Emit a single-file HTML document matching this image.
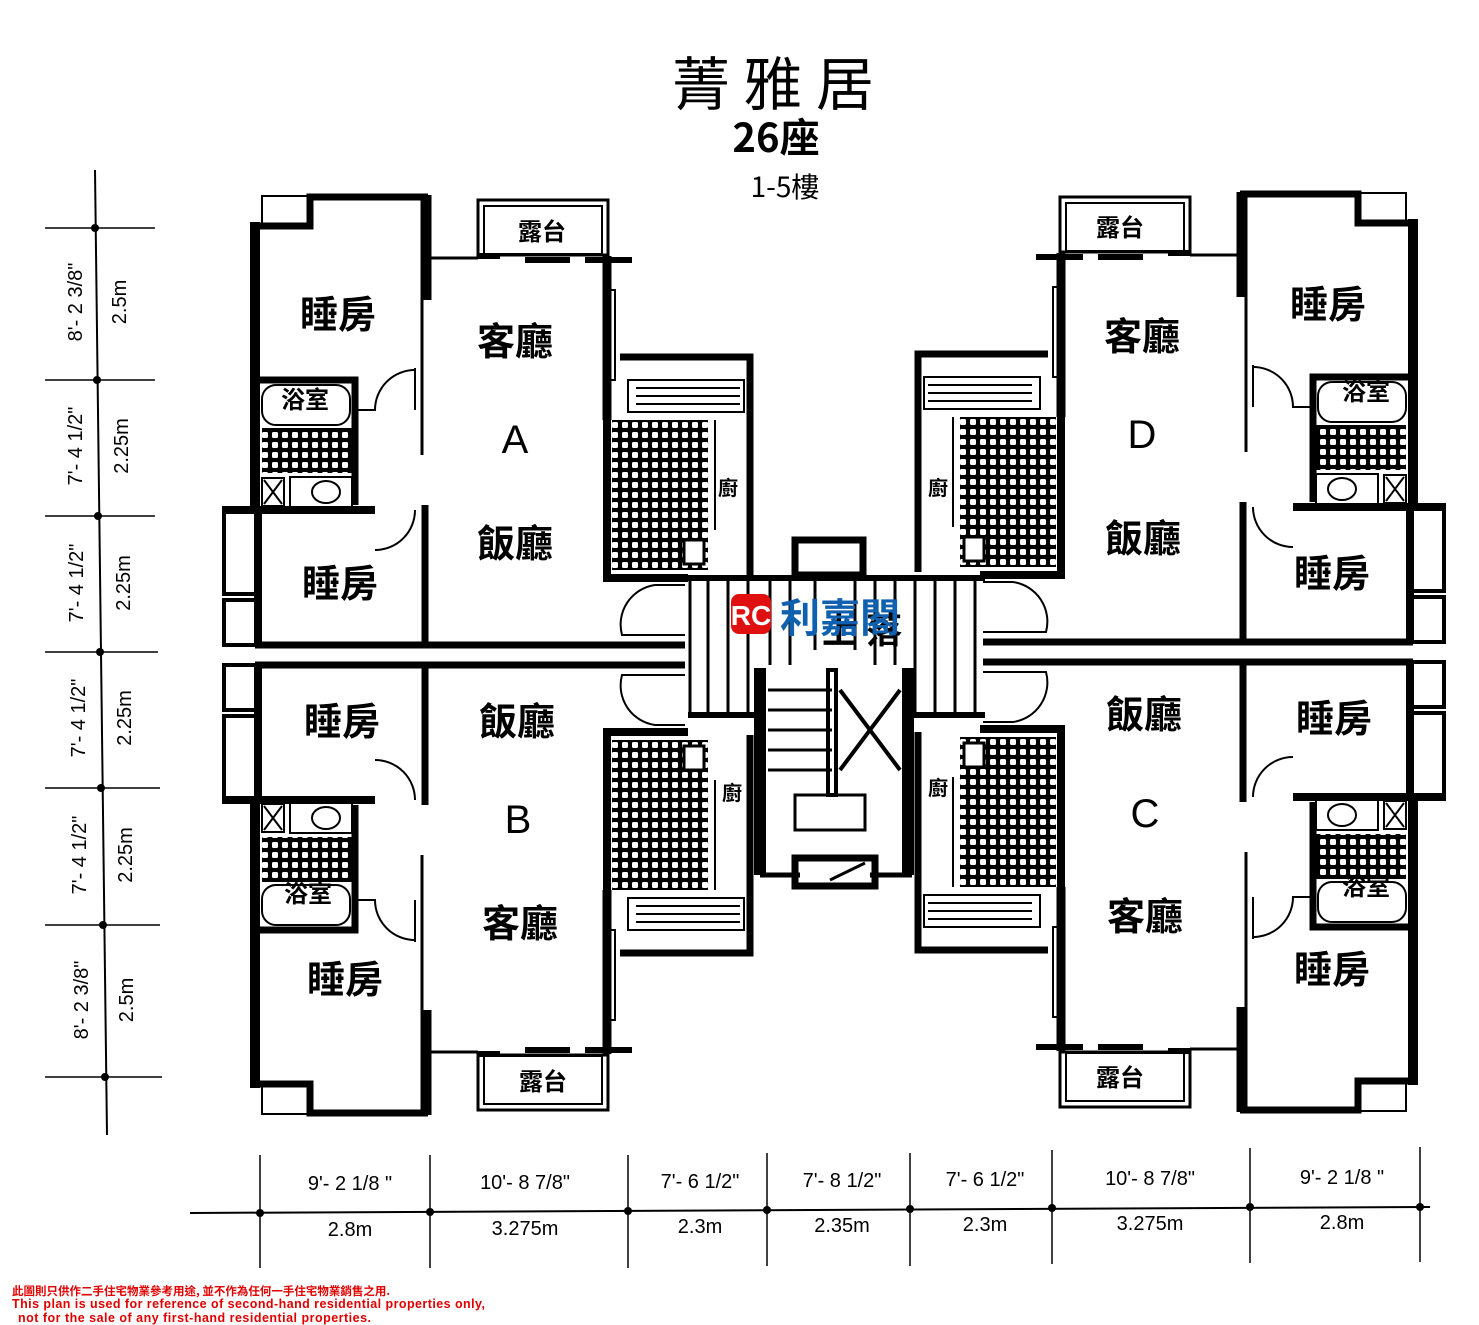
<!DOCTYPE html>
<html><head><meta charset="utf-8">
<style>
html,body{margin:0;padding:0;background:#fff;}
svg{display:block;}
text{font-family:"Liberation Sans","Noto Sans CJK TC",sans-serif;}
.cjk{font-family:"Noto Sans CJK TC","WenQuanYi Zen Hei",sans-serif;}
</style></head>
<body>
<svg width="1479" height="1325" viewBox="0 0 1479 1325" xmlns="http://www.w3.org/2000/svg">
<defs>
<pattern id="grid" width="10" height="10" patternUnits="userSpaceOnUse">
<rect width="10" height="10" fill="#000"/><rect x="2" y="2" width="6" height="6" rx="1.5" fill="#fff"/>
</pattern>
<g id="unitA" fill="none" stroke="#000">
  <rect x="262" y="196" width="48" height="30" stroke-width="2"/>
  <path d="M255 222 V510" stroke-width="10"/>
  <path d="M250 226 H310 V197 H428" stroke-width="7"/>
  <path d="M426 195 V300" stroke-width="11"/>
  <path d="M422 300 V455" stroke-width="3"/>
  <path d="M425 505 V645" stroke-width="7"/>
  <path d="M258 380 H355 V505" stroke-width="7"/>
  <rect x="262" y="385" width="88" height="40" rx="14" stroke-width="2"/>
  <rect x="262" y="428" width="90" height="45" fill="url(#grid)" stroke="none"/>
  <rect x="262" y="478" width="22" height="28" stroke-width="2"/>
  <path d="M264 480 L282 504 M282 480 L264 504" stroke-width="2"/>
  <rect x="290" y="477" width="62" height="30" stroke-width="2"/>
  <ellipse cx="326" cy="492" rx="14" ry="11" stroke-width="2"/>
  <path d="M355 410 H375 A40 40 0 0 1 415 370" stroke-width="2"/>
  <path d="M415 368 V410" stroke-width="2"/>
  <path d="M222 510 H375" stroke-width="8"/>
  <path d="M415 510 A40 40 0 0 1 375 550" stroke-width="2"/>
  <rect x="224" y="512" width="34" height="82" stroke-width="4"/>
  <rect x="224" y="600" width="34" height="45" stroke-width="4"/>
  <path d="M258 510 V645" stroke-width="8"/>
  <path d="M255 645 H685" stroke-width="7"/>
  <path d="M425 258 H478" stroke-width="3"/>
  <path d="M478 256 H500 M525 260 H570 M585 260 H632" stroke-width="6"/>
  <rect x="478" y="200" width="130" height="55" stroke-width="3"/>
  <rect x="484" y="206" width="118" height="48" stroke-width="2"/>
  <path d="M607 256 V420" stroke-width="9"/>
  <rect x="610" y="290" width="5" height="90" stroke-width="2"/>
  <path d="M620 357 H750 V575" stroke-width="7"/>
  <path d="M607 420 V578 H688" stroke-width="8"/>
  <rect x="628" y="380" width="116" height="32" stroke-width="2"/>
  <path d="M636 388 H740 M636 396 H740 M636 404 H740" stroke-width="2"/>
  <rect x="612" y="420" width="96" height="150" fill="url(#grid)" stroke="none"/>
  <rect x="684" y="540" width="20" height="24" stroke-width="3" fill="#fff"/>
  <path d="M715 420 V530" stroke-width="2"/>
  <path d="M685 585 H655 A40 40 0 0 0 622 635 H685" stroke-width="2"/>
</g>
</defs>

<text x="780" y="105" font-size="58" text-anchor="middle" class="cjk" letter-spacing="14">菁雅居</text>
<text x="776" y="152" font-size="40" text-anchor="middle" font-weight="bold" class="cjk">26座</text>
<text x="785" y="197" font-size="28" text-anchor="middle" class="cjk">1-5樓</text>

<use href="#unitA"/>
<use href="#unitA" transform="translate(0,1300) scale(1,-1) translate(0,-10)"/>
<use href="#unitA" transform="translate(1668,-3) scale(-1,1)"/>
<use href="#unitA" transform="translate(1668,1297) scale(-1,-1) translate(0,-10)"/>

<g fill="none" stroke="#000">
  <rect x="795" y="540" width="68" height="35" stroke-width="7"/>
  <path d="M688 578 H985" stroke-width="6"/>
  <path d="M688 715 H760 M905 715 H985" stroke-width="6"/>
  <path d="M690 580 V712 M708 580 V712 M728 580 V712 M748 580 V712 M770 580 V665 M790 580 V665 M815 580 V650 M855 580 V650 M875 580 V665 M895 580 V665 M915 580 V712 M935 580 V712 M955 580 V712 M975 580 V712" stroke-width="3"/>
  <path d="M760 668 V875 M908 668 V875" stroke-width="12"/>
  <path d="M768 690 H832 M768 710 H832 M768 730 H832 M768 750 H832 M768 770 H832" stroke-width="3"/>
  <rect x="828" y="670" width="8" height="125" stroke-width="4"/>
  <path d="M840 690 L900 770 M900 690 L840 770" stroke-width="4"/>
  <rect x="795" y="795" width="70" height="35" stroke-width="3"/>
  <rect x="795" y="858" width="80" height="28" stroke-width="7"/>
  <path d="M830 880 L865 863" stroke-width="3"/>
  <path d="M760 875 H800 M870 875 H912" stroke-width="5"/>
</g>
<text x="822" y="643" font-size="36" font-weight="bold" class="cjk" fill="#000">上 落</text>
<rect x="731" y="594" width="40" height="40" rx="8" fill="#e01010"/>
<text x="751" y="625" font-size="28" font-weight="bold" text-anchor="middle" fill="#fff">RC</text>
<text x="780" y="632" font-size="40" font-weight="bold" class="cjk" fill="#1060b0">利嘉閣</text>

<g class="cjk" font-size="38" fill="#000" text-anchor="middle" font-weight="bold">
  <text x="338" y="328">睡房</text>
  <text x="515" y="355">客廳</text>
  <text x="515" y="557">飯廳</text>
  <text x="340" y="597">睡房</text>
  <text x="342" y="735">睡房</text>
  <text x="517" y="735">飯廳</text>
  <text x="520" y="937">客廳</text>
  <text x="345" y="993">睡房</text>
  <text x="1328" y="318">睡房</text>
  <text x="1142" y="350">客廳</text>
  <text x="1143" y="552">飯廳</text>
  <text x="1332" y="587">睡房</text>
  <text x="1334" y="732">睡房</text>
  <text x="1144" y="728">飯廳</text>
  <text x="1145" y="930">客廳</text>
  <text x="1332" y="983">睡房</text>
</g>
<g font-size="40" text-anchor="middle" fill="#000">
  <text x="515" y="453">A</text><text x="518" y="833">B</text>
  <text x="1142" y="448">D</text><text x="1145" y="827">C</text>
</g>
<g class="cjk" font-size="24" fill="#000" text-anchor="middle" font-weight="bold">
  <text x="305" y="408">浴室</text><text x="308" y="902">浴室</text>
  <text x="1366" y="400">浴室</text><text x="1366" y="895">浴室</text>
  <text x="542" y="240">露台</text><text x="543" y="1090">露台</text>
  <text x="1120" y="236">露台</text><text x="1120" y="1086">露台</text>
</g>
<g class="cjk" font-size="20" fill="#000" font-weight="bold">
  <text x="718" y="495">廚</text><text x="928" y="495">廚</text>
  <text x="722" y="800">廚</text><text x="928" y="795">廚</text>
</g>

<g stroke="#000" fill="none">
  <path d="M95 170 L107 1135" stroke-width="2"/>
  <path d="M45 228 H155 M45 380 H155 M45 516 H155 M45 652 H158 M45 788 H160 M45 925 H160 M45 1077 H162" stroke-width="1.5"/>
</g>
<g fill="#000">
  <circle cx="95" cy="228" r="4"/><circle cx="97" cy="380" r="4"/><circle cx="98" cy="516" r="4"/><circle cx="100" cy="652" r="4"/><circle cx="101" cy="788" r="4"/><circle cx="103" cy="925" r="4"/><circle cx="105" cy="1077" r="4"/>
</g>
<g font-size="20" fill="#000" text-anchor="middle">
  <text transform="translate(82,302) rotate(-90)">8'- 2 3/8"</text>
  <text transform="translate(126,302) rotate(-90)">2.5m</text>
  <text transform="translate(82,446) rotate(-90)">7'- 4 1/2"</text>
  <text transform="translate(128,446) rotate(-90)">2.25m</text>
  <text transform="translate(83,583) rotate(-90)">7'- 4 1/2"</text>
  <text transform="translate(130,583) rotate(-90)">2.25m</text>
  <text transform="translate(85,718) rotate(-90)">7'- 4 1/2"</text>
  <text transform="translate(131,718) rotate(-90)">2.25m</text>
  <text transform="translate(86,855) rotate(-90)">7'- 4 1/2"</text>
  <text transform="translate(132,855) rotate(-90)">2.25m</text>
  <text transform="translate(88,1000) rotate(-90)">8'- 2 3/8"</text>
  <text transform="translate(133,1000) rotate(-90)">2.5m</text>
</g>

<g stroke="#000" fill="none">
  <path d="M190 1213 L1430 1207" stroke-width="2"/>
  <path d="M260 1155 V1268 M430 1155 V1268 M628 1155 V1268 M767 1153 V1266 M910 1153 V1266 M1052 1150 V1264 M1250 1148 V1263 M1420 1147 V1262" stroke-width="1.5"/>
</g>
<g fill="#000">
  <circle cx="260" cy="1213" r="4"/><circle cx="430" cy="1212" r="4"/><circle cx="628" cy="1211" r="4"/><circle cx="767" cy="1210" r="4"/><circle cx="910" cy="1209" r="4"/><circle cx="1052" cy="1208" r="4"/><circle cx="1250" cy="1207" r="4"/><circle cx="1420" cy="1207" r="4"/>
</g>
<g font-size="20" fill="#000" text-anchor="middle">
  <text x="350" y="1190">9'- 2 1/8 "</text><text x="350" y="1236">2.8m</text>
  <text x="525" y="1189">10'- 8 7/8"</text><text x="525" y="1235">3.275m</text>
  <text x="700" y="1188">7'- 6 1/2"</text><text x="700" y="1233">2.3m</text>
  <text x="842" y="1187">7'- 8 1/2"</text><text x="842" y="1232">2.35m</text>
  <text x="985" y="1186">7'- 6 1/2"</text><text x="985" y="1231">2.3m</text>
  <text x="1150" y="1185">10'- 8 7/8"</text><text x="1150" y="1230">3.275m</text>
  <text x="1342" y="1184">9'- 2 1/8 "</text><text x="1342" y="1229">2.8m</text>
</g>

<g fill="#e00000" font-weight="bold">
  <text x="12" y="1295" class="cjk" font-size="11.5">此圖則只供作二手住宅物業參考用途, 並不作為任何一手住宅物業銷售之用.</text>
  <text x="12" y="1308" font-size="12.5" textLength="473">This plan is used for reference of second-hand residential properties only,</text>
  <text x="18" y="1322" font-size="12.5" textLength="353">not for the sale of any first-hand residential properties.</text>
</g>
</svg>
</body></html>
